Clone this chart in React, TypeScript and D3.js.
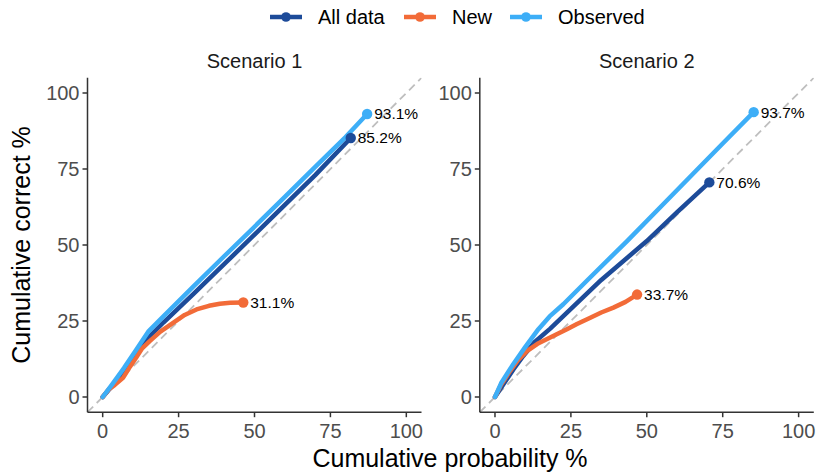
import React from "react";
import * as d3 from "d3";

const W = 818;
const H = 472;
const FONT = "'Liberation Sans', Arial, Helvetica, sans-serif";

const scenarios = ["Scenario 1", "Scenario 2"];
const seriesNames = ["All data", "New", "Observed"];
const seriesColors = ["#1D4B99", "#F26B38", "#3DAEF7"];
const ticks = [0, 25, 50, 75, 100];

// [cumulative probability %, cumulative correct %]
const s1All: [number, number][] = [
  [0, 0], [3, 3.5], [7, 8.5], [11, 14], [15, 19.5], [20, 24.5], [30, 34],
  [40, 43.7], [50, 53.4], [60, 63.2], [70, 73], [81.7, 85.2],
];
const s1New: [number, number][] = [
  [0, 0], [2, 2.5], [4, 4], [6.7, 6.3], [9, 10], [11, 12.9], [13, 16],
  [15.5, 18.4], [19, 21.5], [23.2, 24.4], [27, 27], [30.9, 28.8], [35, 30],
  [38.6, 30.7], [42, 31], [46.3, 31.1],
];
const s1Obs: [number, number][] = [
  [0, 0], [3, 4], [7, 9.5], [11, 15.5], [15, 21.5], [20, 26.5], [30, 36.5],
  [40, 46.3], [50, 56], [60, 65.8], [70, 75.7], [80, 85.5], [87.1, 93.1],
];
const s2All: [number, number][] = [
  [0, 0], [3, 4.5], [6, 9], [9.3, 13.5], [13, 18], [18.2, 22.5], [25, 29],
  [35, 38.5], [50, 51.3], [60, 60.8], [70.6, 70.6],
];
const s2New: [number, number][] = [
  [0, 0], [2, 4], [5, 8.6], [7.5, 12], [10.5, 15.1], [14, 17.5], [17, 19],
  [20, 20.5], [23.7, 22.3], [27, 24], [31.4, 26.1], [35, 27.8], [39, 29.4],
  [43, 31.3], [46.8, 33.7],
];
const s2Obs: [number, number][] = [
  [0, 0], [2, 4.5], [6, 10.8], [10, 16.5], [14.3, 22.3], [18, 26.5],
  [22.5, 30.5], [30, 38], [43.5, 51.3], [55, 63], [65, 73.2], [75, 83.4],
  [85.2, 93.7],
];
const panelData = [
  [s1All, s1New, s1Obs],
  [s2All, s2New, s2Obs],
];

const panelLeft = [87.5, 479.8];
const panelWidth = 334;
const panelTop = 77.8;
const panelBottom = 412.2;

function Panel({ index }: { index: number }) {
  const x = d3.scaleLinear().domain([-5, 105]).range([panelLeft[index], panelLeft[index] + panelWidth]);
  const y = d3.scaleLinear().domain([-5, 105]).range([panelBottom, panelTop]);
  const line = d3.line<[number, number]>().x((d) => x(d[0])).y((d) => y(d[1]));
  const axisColor = "#333333";
  const clipId = `clip${index}`;
  return (
    <g>
      <clipPath id={clipId}>
        <rect x={x(-5)} y={y(105)} width={x(105) - x(-5)} height={y(-5) - y(105)} />
      </clipPath>
      <text x={(x(-5) + x(105)) / 2} y={68} textAnchor="middle" fontSize={20} fill="#1A1A1A">
        {scenarios[index]}
      </text>
      <line
        x1={x(-5)} y1={y(-5)} x2={x(105)} y2={y(105)}
        stroke="#BEBEBE" strokeWidth={1.8} strokeDasharray="8,5"
        clipPath={`url(#${clipId})`}
      />
      {panelData[index].map((pts, i) => (
        <path key={i} d={line(pts) ?? ""} fill="none" stroke={seriesColors[i]} strokeWidth={4.5}
          strokeLinejoin="round" strokeLinecap="round" />
      ))}
      {panelData[index].map((pts, i) => {
        const last = pts[pts.length - 1];
        return (
          <g key={i}>
            <circle cx={x(last[0])} cy={y(last[1])} r={5.2} fill={seriesColors[i]} />
            <text x={x(last[0]) + 7} y={y(last[1])} dy="0.35em" fontSize={15.5} fill="#000">
              {last[1].toFixed(1)}%
            </text>
          </g>
        );
      })}
      <line x1={x(-5)} y1={y(-5)} x2={x(-5)} y2={y(105)} stroke={axisColor} strokeWidth={1.5} />
      <line x1={x(-5)} y1={y(-5)} x2={x(105)} y2={y(-5)} stroke={axisColor} strokeWidth={1.5} />
      {ticks.map((t) => (
        <g key={`y${t}`}>
          <line x1={x(-5) - 5} x2={x(-5)} y1={y(t)} y2={y(t)} stroke={axisColor} strokeWidth={1.5} />
          <text x={x(-5) - 8} y={y(t)} dy="0.36em" textAnchor="end" fontSize={20} fill="#4D4D4D">
            {t}
          </text>
        </g>
      ))}
      {ticks.map((t) => (
        <g key={`x${t}`}>
          <line x1={x(t)} x2={x(t)} y1={y(-5)} y2={y(-5) + 5} stroke={axisColor} strokeWidth={1.5} />
          <text x={x(t)} y={438} textAnchor="middle" fontSize={20} fill="#4D4D4D">
            {t}
          </text>
        </g>
      ))}
    </g>
  );
}

function Legend() {
  const keyX = [270, 404, 510];
  return (
    <g>
      {seriesNames.map((name, i) => (
        <g key={name}>
          <line x1={keyX[i]} x2={keyX[i] + 32} y1={17} y2={17} stroke={seriesColors[i]} strokeWidth={4.5} />
          <circle cx={keyX[i] + 16} cy={17} r={4.8} fill={seriesColors[i]} />
          <text x={keyX[i] + 48} y={17} dy="0.36em" fontSize={20} fill="#000">
            {name}
          </text>
        </g>
      ))}
    </g>
  );
}

export default function App() {
  return (
    <svg width={W} height={H} style={{ position: "absolute", left: 0, top: 0, background: "#fff" }}
      fontFamily={FONT}>
      <Legend />
      <Panel index={0} />
      <Panel index={1} />
      <text x={450} y={467} textAnchor="middle" fontSize={25} fill="#000">
        Cumulative probability %
      </text>
      <text transform={`translate(30, ${(panelTop + panelBottom) / 2}) rotate(-90)`} textAnchor="middle"
        fontSize={25} fill="#000">
        Cumulative correct %
      </text>
    </svg>
  );
}
